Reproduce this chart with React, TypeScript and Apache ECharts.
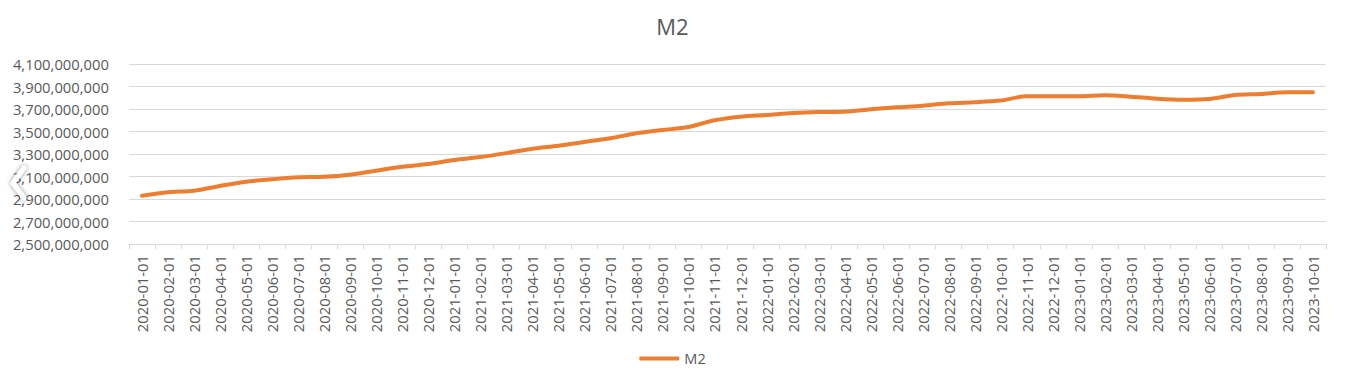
import React, { useEffect, useRef } from "react";
import * as echarts from "echarts";

const categories: string[] = [
  "2020-01-01","2020-02-01","2020-03-01","2020-04-01","2020-05-01","2020-06-01","2020-07-01","2020-08-01","2020-09-01","2020-10-01","2020-11-01","2020-12-01",
  "2021-01-01","2021-02-01","2021-03-01","2021-04-01","2021-05-01","2021-06-01","2021-07-01","2021-08-01","2021-09-01","2021-10-01","2021-11-01","2021-12-01",
  "2022-01-01","2022-02-01","2022-03-01","2022-04-01","2022-05-01","2022-06-01","2022-07-01","2022-08-01","2022-09-01","2022-10-01","2022-11-01","2022-12-01",
  "2023-01-01","2023-02-01","2023-03-01","2023-04-01","2023-05-01","2023-06-01","2023-07-01","2023-08-01","2023-09-01","2023-10-01",
];

const m2Values: number[] = [
  2929000000, 2960000000, 2974000000, 3016000000, 3054000000, 3075000000, 3093000000, 3098000000, 3116000000, 3152000000, 3187000000, 3211000000,
  3247000000, 3273000000, 3308000000, 3347000000, 3374000000, 3407000000, 3440000000, 3484000000, 3513000000, 3540000000, 3600000000, 3632000000,
  3647000000, 3664000000, 3673000000, 3675000000, 3697000000, 3715000000, 3729000000, 3751000000, 3760000000, 3775000000, 3813000000, 3813000000,
  3813000000, 3822000000, 3809000000, 3792000000, 3783000000, 3789000000, 3824000000, 3833000000, 3848000000, 3848000000,
];

const seriesName = "M2";
const yMin = 2500000000;
const yMax = 4100000000;
const yStep = 200000000;

export default function App() {
  const ref = useRef<HTMLDivElement>(null);
  useEffect(() => {
    if (!ref.current) return;
    const chart = echarts.init(ref.current, undefined, { renderer: "svg" });
    const font = "'Open Sans', 'Noto Sans', sans-serif";
    chart.setOption({
      animation: false,
      backgroundColor: "#ffffff",
      title: {
        text: "M2",
        left: "center",
        top: 10,
        textStyle: { fontFamily: font, fontSize: 22, fontWeight: "normal", color: "#595959" },
      },
      legend: {
        bottom: 11,
        left: "center",
        itemWidth: 40,
        itemHeight: 4,
        icon: "roundRect",
        textStyle: { fontFamily: font, fontSize: 14.5, color: "#595959" },
        data: [seriesName],
      },
      grid: { left: 129, right: 19, top: 64, bottom: 138, containLabel: false },
      xAxis: {
        type: "category",
        data: categories,
        boundaryGap: true,
        axisLine: { show: true, lineStyle: { color: "#d9d9d9" } },
        axisTick: { show: true, length: 5, lineStyle: { color: "#d9d9d9" } },
        axisLabel: { rotate: 90, interval: 0, margin: 11, fontFamily: font, fontSize: 14.8, color: "#595959" },
      },
      yAxis: {
        type: "value",
        min: yMin,
        max: yMax,
        interval: yStep,
        axisLine: { show: false },
        axisTick: { show: false },
        splitLine: { lineStyle: { color: "#d9d9d9", width: 1 } },
        axisLabel: {
          fontFamily: font,
          fontSize: 14.8,
          color: "#595959",
          margin: 20,
          formatter: (v: number) => v.toLocaleString("en-US"),
        },
      },
      series: [
        {
          name: seriesName,
          type: "line",
          data: m2Values,
          smooth: 0.3,
          showSymbol: false,
          symbol: "none",
          lineStyle: { color: "#ED7D31", width: 4, cap: "round" },
          itemStyle: { color: "#ED7D31" },
        },
      ],
      graphic: [
        {
          type: "polyline",
          shape: { points: [[24, 168], [13, 183], [24, 198]] },
          style: {
            fill: "none",
            stroke: "#ffffff",
            lineWidth: 5,
            lineCap: "round",
            lineJoin: "round",
            shadowBlur: 4,
            shadowColor: "rgba(0,0,0,0.5)",
          },
          z: 100,
        },
      ],
    });
    return () => chart.dispose();
  }, []);
  return (
    <div
      ref={ref}
      style={{ position: "absolute", left: 0, top: 0, width: 1345, height: 382 }}
    />
  );
}
